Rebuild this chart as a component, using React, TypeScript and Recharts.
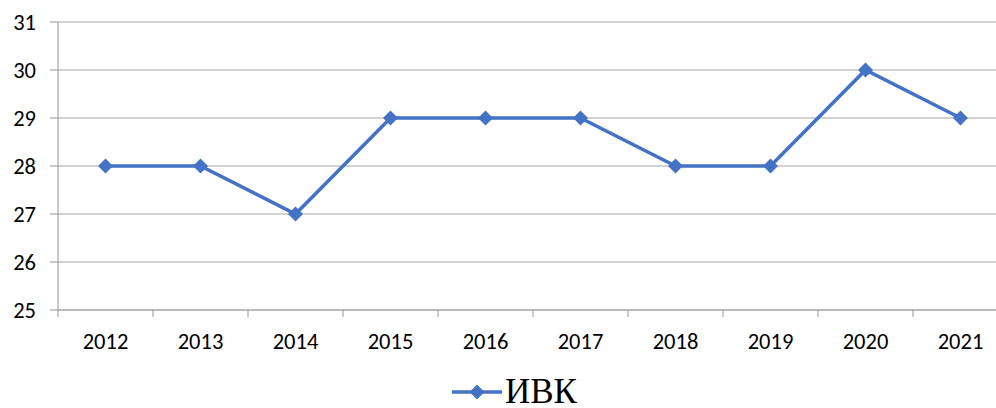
import React from 'react';
import { LineChart, Line, XAxis, YAxis, CartesianGrid, Legend } from 'recharts';

const years = ['2012', '2013', '2014', '2015', '2016', '2017', '2018', '2019', '2020', '2021'];
const ivk = [28, 28, 27, 29, 29, 29, 28, 28, 30, 29];
const yTicks = [25, 26, 27, 28, 29, 30, 31];

const data = years.map((year, i) => ({ year, ivk: ivk[i] }));

const BLUE = '#4472C4';
const GRID = '#a6a6a6';
const FONT = 'Carlito, Calibri, Lato, sans-serif';

const Diamond = (props: any) => {
  const { cx, cy } = props;
  if (cx == null || cy == null) return null;
  const r = 7.5;
  return (
    <polygon
      points={`${cx},${cy - r} ${cx + r},${cy} ${cx},${cy + r} ${cx - r},${cy}`}
      fill={BLUE}
    />
  );
};

// label at band centre, tick mark at band boundary like the original
const XTick = (props: any) => {
  const { x, y, payload } = props;
  const off = payload.offset || 0;
  return (
    <g>
      <line x1={x - off} y1={y} x2={x - off} y2={y + 7} stroke={GRID} strokeWidth={1.2} />
      <text x={x} y={y + 39} textAnchor="middle" fill="#000" fontSize={22.5} fontFamily={FONT}>
        {payload.value}
      </text>
    </g>
  );
};

const LegendContent = () => (
  <div style={{ display: 'flex', alignItems: 'center', height: 30 }}>
    <svg width={50} height={20}>
      <line x1={0} y1={10} x2={50} y2={10} stroke={BLUE} strokeWidth={3.5} />
      <polygon points="25,2.5 32.5,10 25,17.5 17.5,10" fill={BLUE} />
    </svg>
    <span
      style={{
        fontFamily: '"Liberation Serif", "Times New Roman", serif',
        fontSize: 35,
        color: '#000',
        marginLeft: 3,
        lineHeight: '30px',
      }}
    >
      ИВК
    </span>
  </div>
);

export default function App() {
  return (
    <div
      style={{
        position: 'absolute',
        left: 0,
        top: 0,
        width: 996,
        height: 408,
        overflow: 'hidden',
        background: '#fff',
      }}
    >
      <LineChart width={1008} height={408} data={data} margin={{ top: 22, right: 0, bottom: 30, left: 0 }}>
        <CartesianGrid vertical={false} stroke={GRID} strokeWidth={1.2} />
        <XAxis
          dataKey="year"
          scale="band"
          height={38}
          tickLine={false}
          tickSize={0}
          tickMargin={0}
          axisLine={{ stroke: GRID, strokeWidth: 1.2 }}
          tick={<XTick />}
          interval={0}
        />
        <YAxis
          type="number"
          domain={[25, 31]}
          ticks={yTicks}
          width={58}
          tickSize={8}
          tickMargin={14}
          tickLine={{ stroke: GRID, strokeWidth: 1.2 }}
          axisLine={{ stroke: GRID, strokeWidth: 1.2 }}
          tick={{ fill: '#000', fontSize: 22.5, fontFamily: FONT }}
          interval={0}
        />
        <Legend
          verticalAlign="bottom"
          height={30}
          content={<LegendContent />}
          wrapperStyle={{ left: 452, top: 377, width: 'auto', height: 30 }}
        />
        <Line
          type="linear"
          dataKey="ivk"
          stroke={BLUE}
          strokeWidth={3.5}
          dot={<Diamond />}
          activeDot={false}
          isAnimationActive={false}
        />
      </LineChart>
    </div>
  );
}
